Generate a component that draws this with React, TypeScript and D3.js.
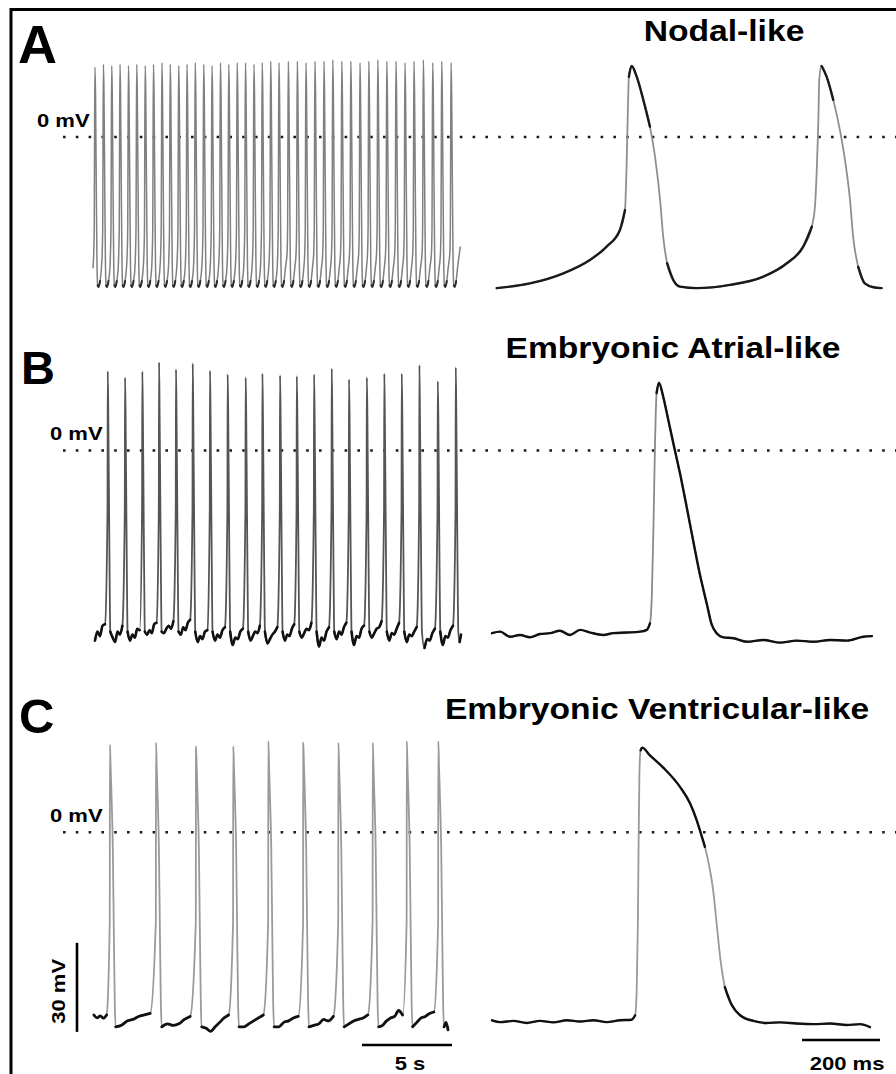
import React from "react";
import * as d3 from "d3";

// ---------------- DATA ----------------
// Panel titles / labels
const PANEL_LABELS = ["A", "B", "C"];
const TITLES = ["Nodal-like", "Embryonic Atrial-like", "Embryonic Ventricular-like"];
const ZERO_LABEL = "0 mV";
const VBAR_LABEL = "30 mV";
const SEC_BAR_LABEL = "5 s";
const MS_BAR_LABEL = "200 ms";

// Scale bar values
const VBAR_MV = [-67.2, -37.2]; // 30 mV bar (panel C scale)
const SEC_BAR = [14.94, 19.94]; // 5 s
const MS_BAR = [795, 995]; // 200 ms

// ---- Panel A left: spike train (time s, mV)
const A_SPIKE_TIMES = [0.11, 0.58, 1.04, 1.5, 1.97, 2.43, 2.9, 3.36, 3.83, 4.29, 4.76, 5.22, 5.68, 6.15, 6.61, 7.08, 7.54, 8.01, 8.47, 8.94, 9.4, 9.87, 10.33, 10.85, 11.35, 11.83, 12.33, 12.83, 13.32, 13.82, 14.32, 14.83, 15.32, 15.82, 16.32, 16.83, 17.33, 17.83, 18.35, 18.87, 19.37, 19.89];
const A_PEAKS = [23.5, 24.5, 24, 24.5, 24, 24.5, 24, 24.5, 25, 24.5, 24, 24.5, 25, 24.5, 24, 25, 24.5, 25, 25, 24.5, 25, 25.5, 25, 25.5, 25.5, 25, 25.5, 25.5, 26, 25.5, 25.5, 25, 25.5, 26, 25.5, 25.5, 25, 25.5, 26, 25, 25.5, 25];
const A_TEMPLATE_T = [-0.07, -0.04, -0.02, 0, 0.03, 0.07, 0.11, 0.15, 0.2, 0.28, 0.36];
const A_TEMPLATE_V: (number | null)[] = [-39, -30, 5, null, 15, -15, -42, -50, -50.5, -48.5, -44];
const A_EDGE_T = [0, 20.4];
const A_EDGE_V = [-44, -37];

// ---- Panel A right (ms, mV)
const A_RIGHT_T = [12, 97, 183, 251, 294, 328, 341, 345, 348, 351, 358, 371, 388, 405, 418, 431, 439, 449, 465, 482, 525, 610, 696, 756, 798, 820, 828, 833, 837, 839, 845, 858, 875, 892, 905, 918, 926, 939, 956, 978, 999];
const A_RIGHT_V = [-50.9, -49.3, -45.9, -41.4, -36.9, -31.3, -24.6, -10.0, 6.8, 20.3, 23.9, 20.3, 12.5, 3.5, -6.6, -21.2, -33.6, -42.5, -48.2, -50.4, -50.9, -49.8, -47.0, -42.5, -36.9, -30.2, -23.5, -10.0, 6.8, 19.2, 23.9, 20.3, 12.5, 2.4, -7.7, -21.2, -33.6, -43.7, -49.3, -50.6, -50.9];

// ---- Panel B left
const B_SPIKE_TIMES = [0.82, 1.78, 2.74, 3.67, 4.61, 5.54, 6.5, 7.48, 8.48, 9.41, 10.39, 11.32, 12.28, 13.26, 14.22, 15.21, 16.18, 17.15, 18.13, 19.15, 20.15];
const B_PEAKS = [26.7, 24.6, 26.6, 29.7, 27.3, 29.3, 26.9, 25.6, 24.6, 25.9, 25.3, 25.0, 25.6, 27.6, 23.9, 24.6, 25.9, 25.9, 28.7, 23.3, 28.0];
const B_TEMPLATE_T = [-0.015, 0, 0.03, 0.06, 0.1, 0.14];
const B_TEMPLATE_V: (number | null)[] = [-20, null, 12, -10, -40, -61];
const B_BASELINE = [
  [-64, -61, -62.5, -59, -58.5],
  [-63, -64.5, -61, -62, -59],
  [-64, -62, -63, -60, -60.5],
  [-62, -60.5, -61.5, -58.5, -58],
  [-61.5, -60, -59, -60, -57.5],
  [-62, -59.5, -60.5, -58, -57],
  [-64.5, -62.5, -63.5, -61, -60.5],
  [-64, -62, -63, -60.5, -59.5],
  [-65.5, -63, -63.5, -61, -60],
  [-64, -62.5, -61, -61.5, -59],
  [-65, -63.5, -62, -61, -59.5],
  [-64, -62, -62.5, -60, -58.5],
  [-63, -61.5, -60, -60.5, -58],
  [-66, -63, -64, -61, -59.5],
  [-63.5, -61, -62, -59.5, -58],
  [-65.5, -62.5, -63, -60, -59],
  [-63, -61.5, -60, -59.5, -57.5],
  [-64, -61.5, -62, -60, -58],
  [-64.5, -62, -62.5, -61, -59.5],
  [-66.5, -63.5, -64, -61.5, -60],
  [-65.5, -62.5, -63, -60.5, -59],
  [-64.5, -62],
];
const B_EDGE_T = [0.11, 20.44];

// ---- Panel B right (ms, mV)
const B_RIGHT_T = [0, 21, 46, 72, 97, 123, 149, 174, 200, 226, 252, 285, 311, 345, 380, 397, 405, 410, 414, 418, 422, 428, 439, 452, 465, 482, 499, 516, 533, 551, 563, 576, 593, 619, 653, 696, 739, 781, 824, 867, 910, 952, 974];
const B_RIGHT_V = [-61.5, -61.0, -62.7, -62.1, -62.9, -61.8, -61.5, -60.7, -62.1, -60.4, -61.3, -62.1, -61.5, -61.3, -61.0, -60.4, -58.2, -48.1, -25.7, 2.4, 19.3, 22.8, 18.1, 10.3, 2.4, -7.7, -18.9, -30.5, -41.7, -51.8, -58.5, -61.5, -62.9, -63.2, -64.4, -63.8, -64.7, -64.0, -64.4, -63.8, -64.0, -62.7, -62.5];

// ---- Panel C left
const C_SPIKE_TIMES = [0.94, 3.5, 5.72, 7.79, 9.74, 11.68, 13.63, 15.54, 17.43, 19.18];
const C_PEAKS = [29.5, 30.2, 29.0, 29.0, 30.7, 30.2, 30.2, 30.2, 30.7, 30.7];
const C_TEMPLATE_T = [-0.01, 0, 0.04, 0.1, 0.16, 0.22, 0.27, 0.32];
const C_TEMPLATE_V: (number | null)[] = [-30, null, 22, 10, -5, -35, -58, -65.5];
const C_BASELINE = [
  [-61.5, -62.5, -61.8, -62.6, -61.5],
  [-65, -63.5, -63, -62, -61.5, -61],
  [-64.5, -65, -64.5, -63, -62],
  [-66, -67, -65.5, -64, -62.5, -61.5],
  [-65.5, -64.5, -63.5, -62.5, -61.5],
  [-65.5, -64, -63.5, -62.5, -62],
  [-65, -64.5, -63, -63.5, -62],
  [-64.5, -63.5, -63, -62.5, -61.5],
  [-65, -63.5, -62.5, -62, -60, -61.5],
  [-64, -62.5, -62, -61, -60.5],
  [-64, -66.5],
];
const C_EDGE_T = [0.05, 19.72];

// ---- Panel C right (ms, mV)
const C_RIGHT_T = [0, 21, 55, 89, 123, 157, 192, 226, 260, 294, 328, 358, 367, 371, 374, 376, 378, 381, 385, 405, 439, 482, 508, 525, 533, 546, 559, 567, 576, 585, 597, 615, 636, 670, 704, 739, 781, 824, 867, 910, 944, 969];
const C_RIGHT_V = [-63.3, -63.9, -63.5, -64.2, -63.5, -64.0, -63.3, -63.7, -63.3, -63.9, -63.3, -63.1, -61.6, -53.2, -30.7, -2.7, 19.8, 27.6, 28.5, 25.9, 21.8, 15.3, 9.7, 4.0, 0.7, -4.9, -12.8, -19.5, -30.7, -42.0, -52.1, -58.2, -61.6, -63.5, -64.2, -64.0, -64.4, -64.6, -64.4, -64.9, -64.6, -65.6];

// ---------------- LAYOUT ----------------
const W = 896;
const H = 1074;
const PX_PER_MV = 2.97;
const ZERO_Y = [137, 450.5, 832.3];
const FONT = "'Liberation Sans', Arial, Helvetica, sans-serif";
const SX = 1.16;

const xLeft = d3.scaleLinear().domain([0, 20.44]).range([93, 461]);
const xRight = d3.scaleLinear().domain([0, 1000]).range([492, 882]);
const yFor = (zero: number) =>
  d3.scaleLinear().domain([-70, 30]).range([zero + 70 * PX_PER_MV, zero - 30 * PX_PER_MV]);
const yScales = ZERO_Y.map(yFor);

type P = [number, number];

function spikePoints(t: number, peak: number, tT: number[], tV: (number | null)[]): P[] {
  return tT.map((dt, k) => [t + dt, tV[k] === null ? peak : (tV[k] as number)] as P);
}

function spreadSeg(vals: number[], a: number, b: number, mode: "first" | "mid" | "last"): P[] {
  const n = vals.length;
  return vals.map((v, j) => {
    let t: number;
    if (mode === "first") t = a + (j * (b - a)) / n;
    else if (mode === "mid") t = a + ((j + 1) * (b - a)) / (n + 1);
    else t = a + ((j + 1) * (b - a)) / n;
    return [t, v] as P;
  });
}

function trainWithBaseline(times: number[], peaks: number[], tT: number[], tV: (number | null)[], segs: number[][], edge: number[]): P[] {
  const pts: P[] = [];
  const last = tT.length - 1;
  times.forEach((t, i) => {
    const segStart = i === 0 ? edge[0] : times[i - 1] + tT[last];
    const segEnd = t + tT[0];
    pts.push(...spreadSeg(segs[i], segStart, segEnd, i === 0 ? "first" : "mid"));
    pts.push(...spikePoints(t, peaks[i], tT, tV));
  });
  const lastI = times.length - 1;
  pts.push(...spreadSeg(segs[times.length], times[lastI] + tT[last], edge[1], "last"));
  return pts;
}

function trainA(): P[] {
  const pts: P[] = [[A_EDGE_T[0], A_EDGE_V[0]]];
  A_SPIKE_TIMES.forEach((t, i) => pts.push(...spikePoints(t, A_PEAKS[i], A_TEMPLATE_T, A_TEMPLATE_V)));
  pts.push([A_EDGE_T[1], A_EDGE_V[1]]);
  return pts;
}

function toPx(pts: P[], x: d3.ScaleLinear<number, number>, y: d3.ScaleLinear<number, number>): P[] {
  return pts.map(([t, v]) => [x(t), y(v)] as P);
}

function tracePaths(px: P[], thr: number) {
  const n = px.length;
  const slope = (a: P, b: P) => Math.abs(b[1] - a[1]) / Math.max(Math.abs(b[0] - a[0]), 0.01);
  const slow = px.map((p, i) => {
    const s: number[] = [];
    if (i > 0) s.push(slope(px[i - 1], p));
    if (i < n - 1) s.push(slope(p, px[i + 1]));
    return Math.min(...s) < thr;
  });
  const full = d3.line<P>().x((d) => d[0]).y((d) => d[1]).curve(d3.curveMonotoneX)(px) || "";
  const dark =
    d3
      .line<number>()
      .defined((i) => slow[i])
      .x((i) => px[i][0])
      .y((i) => px[i][1])
      .curve(d3.curveMonotoneX)(d3.range(n)) || "";
  return { full, dark };
}

function Trace({ px, thr, gray, grayW, darkC, darkW }: { px: P[]; thr: number; gray: string; grayW: number; darkC: string; darkW: number }) {
  const { full, dark } = tracePaths(px, thr);
  return (
    <g fill="none" strokeLinejoin="round" strokeLinecap="round">
      <path d={full} stroke={gray} strokeWidth={grayW} />
      <path d={dark} stroke={darkC} strokeWidth={darkW} />
    </g>
  );
}

function Txt({ x, y, size, anchor = "start", rotate = 0, children }: { x: number; y: number; size: number; anchor?: string; rotate?: number; children: React.ReactNode }) {
  return (
    <text
      transform={`translate(${x},${y})${rotate ? ` rotate(${rotate})` : ""} scale(${SX},1)`}
      fontSize={size}
      textAnchor={anchor as any}
      fontFamily={FONT}
      fontWeight="bold"
      fill="#000"
    >
      {children}
    </text>
  );
}

export default function App() {
  const [yA, yB, yC] = yScales;

  const aLeft = toPx(trainA(), xLeft, yA);
  const bLeft = toPx(trainWithBaseline(B_SPIKE_TIMES, B_PEAKS, B_TEMPLATE_T, B_TEMPLATE_V, B_BASELINE, B_EDGE_T), xLeft, yB);
  const cLeft = toPx(trainWithBaseline(C_SPIKE_TIMES, C_PEAKS, C_TEMPLATE_T, C_TEMPLATE_V, C_BASELINE, C_EDGE_T), xLeft, yC);

  const zip = (t: number[], v: number[]) => t.map((tt, i) => [tt, v[i]] as P);
  const aRight = toPx(zip(A_RIGHT_T, A_RIGHT_V), xRight, yA);
  const bRight = toPx(zip(B_RIGHT_T, B_RIGHT_V), xRight, yB);
  const cRight = toPx(zip(C_RIGHT_T, C_RIGHT_V), xRight, yC);

  const labelPos = [
    { x: 18, y: 63, size: 54 },
    { x: 21, y: 384, size: 47 },
    { x: 19, y: 733, size: 49 },
  ];
  const titlePos = [
    { x: 724, y: 41 },
    { x: 673, y: 358 },
    { x: 657, y: 719 },
  ];
  const zeroLabelPos = [
    { x: 37, y: 127 },
    { x: 50, y: 440 },
    { x: 50, y: 822 },
  ];

  return (
    <svg
      width={W}
      height={H}
      viewBox={`0 0 ${W} ${H}`}
      style={{ position: "absolute", left: 0, top: 0, display: "block", background: "#fff" }}
    >
      <rect x={0} y={0} width={W} height={H} fill="#fff" />
      <rect x={11} y={9.5} width={W + 20} height={H + 20} fill="none" stroke="#000" strokeWidth={3} />

      {/* zero lines */}
      {ZERO_Y.map((z, i) => (
        <line key={"z" + i} x1={63} x2={W} y1={yScales[i](0)} y2={yScales[i](0)} stroke="#1a1a1a" strokeWidth={2.6} strokeDasharray="2.6 10.2" />
      ))}

      {/* traces */}
      <Trace px={aLeft} thr={6} gray="#808080" grayW={1.5} darkC="#2a2a2a" darkW={2} />
      <Trace px={bLeft} thr={6} gray="#555" grayW={1.8} darkC="#111" darkW={2.6} />
      <Trace px={cLeft} thr={6} gray="#9a9a9a" grayW={1.8} darkC="#111" darkW={2.8} />
      <Trace px={aRight} thr={4.5} gray="#8f8f8f" grayW={1.8} darkC="#1a1a1a" darkW={2.4} />
      <Trace px={bRight} thr={6} gray="#8a8a8a" grayW={1.8} darkC="#111" darkW={2.4} />
      <Trace px={cRight} thr={4} gray="#999" grayW={1.8} darkC="#111" darkW={2.4} />

      {/* panel letters */}
      {PANEL_LABELS.map((l, i) => (
        <text key={l} x={labelPos[i].x} y={labelPos[i].y} fontSize={labelPos[i].size} fontFamily={FONT} fontWeight="bold" fill="#000">
          {l}
        </text>
      ))}

      {/* titles */}
      {TITLES.map((t, i) => (
        <Txt key={t} x={titlePos[i].x} y={titlePos[i].y} size={29} anchor="middle">
          {t}
        </Txt>
      ))}

      {/* 0 mV labels */}
      {zeroLabelPos.map((p, i) => (
        <Txt key={"l" + i} x={p.x} y={p.y} size={19}>
          {ZERO_LABEL}
        </Txt>
      ))}

      {/* scale bars */}
      <line x1={77} x2={77} y1={yC(VBAR_MV[0])} y2={yC(VBAR_MV[1])} stroke="#000" strokeWidth={2.6} />
      <Txt x={65} y={(yC(VBAR_MV[0]) + yC(VBAR_MV[1])) / 2 + 4} size={19} anchor="middle" rotate={-90}>
        {VBAR_LABEL}
      </Txt>
      <line x1={xLeft(SEC_BAR[0])} x2={xLeft(SEC_BAR[1])} y1={1045} y2={1045} stroke="#000" strokeWidth={2.6} />
      <Txt x={(xLeft(SEC_BAR[0]) + xLeft(SEC_BAR[1])) / 2 + 3} y={1070} size={19} anchor="middle">
        {SEC_BAR_LABEL}
      </Txt>
      <line x1={xRight(MS_BAR[0])} x2={xRight(MS_BAR[1])} y1={1040} y2={1040} stroke="#000" strokeWidth={2.6} />
      <Txt x={(xRight(MS_BAR[0]) + xRight(MS_BAR[1])) / 2 + 6} y={1070} size={19} anchor="middle">
        {MS_BAR_LABEL}
      </Txt>
    </svg>
  );
}
